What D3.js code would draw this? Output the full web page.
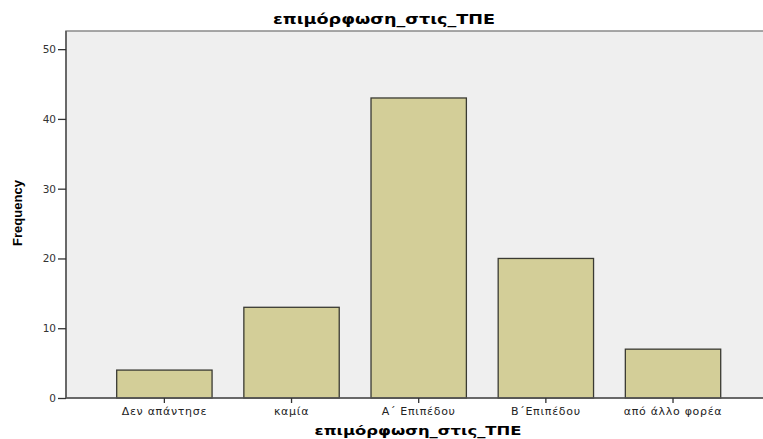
<!DOCTYPE html>
<html>
<head>
<meta charset="utf-8">
<script src="https://cdn.jsdelivr.net/npm/d3@7"></script>
<style>
  html, body { margin: 0; padding: 0; background: #ffffff; }
  svg { display: block; }
</style>
</head>
<body>
<svg id="chart" width="763" height="439"></svg>
<script>
const chartTitle = "επιμόρφωση_στις_ΤΠΕ";
const xTitle = "επιμόρφωση_στις_ΤΠΕ";
const yTitle = "Frequency";
const categories = ["Δεν απάντησε", "καμία", "Α΄ Επιπέδου", "Β΄Επιπέδου", "από άλλο φορέα"];
const frequencies = [4, 13, 43, 20, 7];
const yTicks = [0, 10, 20, 30, 40, 50];

const svg = d3.select("#chart");
const plotLeft = 66, plotTop = 31, plotBottom = 398, plotRight = 763;

const x = d3.scaleBand()
  .domain(categories)
  .range([100.8, 736.6])
  .paddingInner(0.25)
  .paddingOuter(0.125);

const y = d3.scaleLinear()
  .domain([0, 52.6])
  .range([plotBottom, plotTop]);

// plot background
svg.append("rect")
  .attr("x", plotLeft).attr("y", plotTop)
  .attr("width", plotRight - plotLeft + 2).attr("height", plotBottom - plotTop)
  .attr("fill", "#efefef")
  .attr("stroke", "#8a8a8a").attr("stroke-width", 1.5);

// bars
svg.append("g").selectAll("rect")
  .data(categories)
  .join("rect")
  .attr("x", d => x(d))
  .attr("y", (d, i) => y(frequencies[i]))
  .attr("width", x.bandwidth())
  .attr("height", (d, i) => y(0) - y(frequencies[i]))
  .attr("fill", "#d3ce98")
  .attr("stroke", "#3a3a33")
  .attr("stroke-width", 1.3);

// y axis
const yAxis = svg.append("g")
  .attr("transform", `translate(${plotLeft},0)`)
  .call(d3.axisLeft(y).tickValues(yTicks).tickSize(8).tickPadding(2).tickSizeOuter(0));
yAxis.select(".domain").attr("stroke", "#555").attr("stroke-width", 1.5)
  .attr("d", `M0,${plotTop}V${plotBottom}`);
yAxis.selectAll(".tick line").attr("stroke", "#333").attr("stroke-width", 1.3);
yAxis.selectAll(".tick text")
  .attr("fill", "#333")
  .style("font-family", "'DejaVu Sans', Verdana, sans-serif")
  .style("font-size", "10.5px");

// x axis
const xAxis = svg.append("g")
  .attr("transform", `translate(0,${plotBottom})`)
  .call(d3.axisBottom(x).tickSize(5).tickPadding(4).tickSizeOuter(0));
xAxis.select(".domain").attr("stroke", "#555").attr("stroke-width", 1.5)
  .attr("d", `M${plotLeft},0H${plotRight}`);
xAxis.selectAll(".tick line").attr("stroke", "#333").attr("stroke-width", 1.3);
xAxis.selectAll(".tick text")
  .attr("fill", "#222")
  .style("font-family", "'DejaVu Sans', Verdana, sans-serif")
  .style("font-size", "11px")
  .style("letter-spacing", "0.7px");

// titles
svg.append("text")
  .attr("x", 384).attr("y", 24)
  .attr("text-anchor", "middle")
  .attr("textLength", 222).attr("lengthAdjust", "spacingAndGlyphs")
  .style("font-family", "'DejaVu Sans', Verdana, sans-serif")
  .style("font-weight", "bold").style("font-size", "13.5px")
  .attr("fill", "#000")
  .text(chartTitle);

svg.append("text")
  .attr("x", 418).attr("y", 435)
  .attr("text-anchor", "middle")
  .attr("textLength", 207).attr("lengthAdjust", "spacingAndGlyphs")
  .style("font-family", "'DejaVu Sans', Verdana, sans-serif")
  .style("font-weight", "bold").style("font-size", "12.5px")
  .attr("fill", "#000")
  .text(xTitle);

svg.append("text")
  .attr("transform", "translate(22,213) rotate(-90)")
  .attr("text-anchor", "middle")
  .style("font-family", "'Liberation Sans Narrow', 'Arial Narrow', 'Liberation Sans', sans-serif")
  .style("font-stretch", "condensed")
  .style("font-weight", "bold").style("font-size", "13px")
  .attr("fill", "#000")
  .text(yTitle);
</script>
</body>
</html>
